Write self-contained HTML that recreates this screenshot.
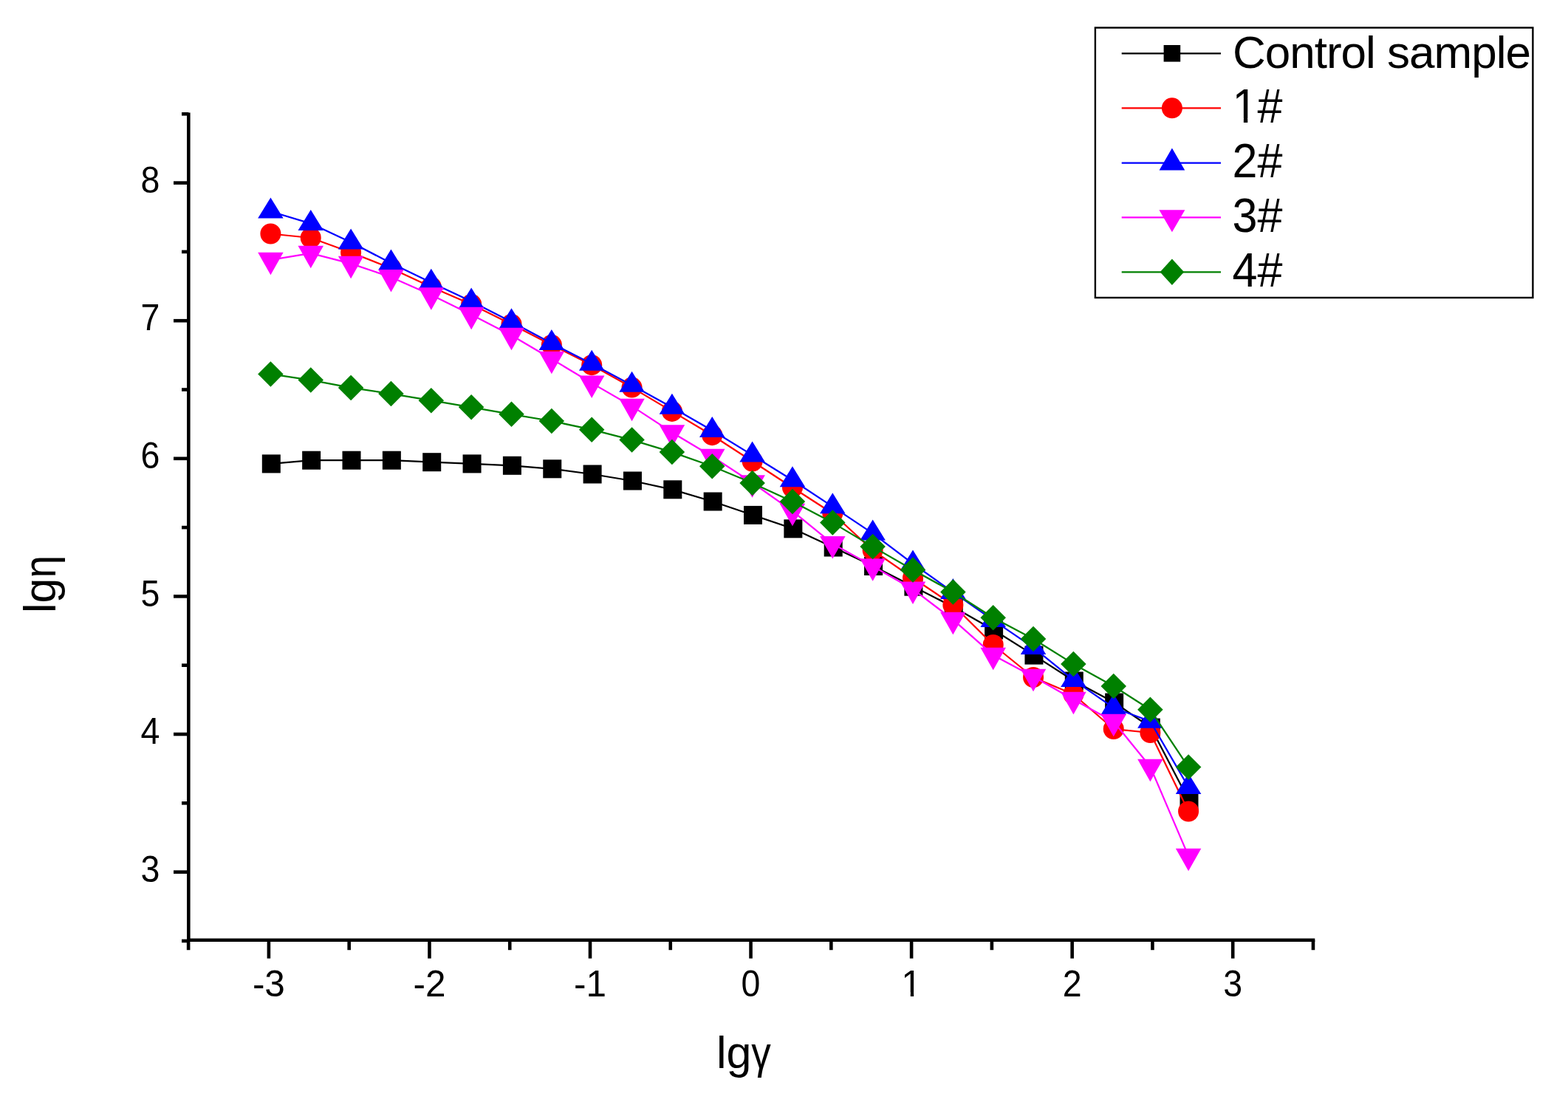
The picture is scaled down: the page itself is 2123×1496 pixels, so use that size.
<!DOCTYPE html>
<html><head><meta charset="utf-8"><title>lg&#951; vs lg&#947;</title>
<style>
html,body{margin:0;padding:0;background:#fff;}
body{width:2123px;height:1496px;overflow:hidden;}
svg{display:block;}
text{font-family:"Liberation Sans",sans-serif;fill:#000;}
</style></head><body>
<svg width="2123" height="1496" viewBox="0 0 2123 1496">
<rect width="2123" height="1496" fill="#fff"/>
<g stroke="#000" stroke-width="4.6" fill="none" stroke-linecap="butt">
<line x1="255.3" y1="152.5" x2="255.3" y2="1275"/>
<line x1="253" y1="1272.7" x2="1780.3" y2="1272.7"/>
<line x1="246" y1="1273.9" x2="255.3" y2="1273.9"/>
<line x1="235" y1="1180.6" x2="255.3" y2="1180.6"/>
<line x1="246" y1="1087.3" x2="255.3" y2="1087.3"/>
<line x1="235" y1="994" x2="255.3" y2="994"/>
<line x1="246" y1="900.7" x2="255.3" y2="900.7"/>
<line x1="235" y1="807.4" x2="255.3" y2="807.4"/>
<line x1="246" y1="714.1" x2="255.3" y2="714.1"/>
<line x1="235" y1="620.8" x2="255.3" y2="620.8"/>
<line x1="246" y1="527.5" x2="255.3" y2="527.5"/>
<line x1="235" y1="434.2" x2="255.3" y2="434.2"/>
<line x1="246" y1="340.9" x2="255.3" y2="340.9"/>
<line x1="235" y1="247.6" x2="255.3" y2="247.6"/>
<line x1="246" y1="154.3" x2="255.3" y2="154.3"/>
<line x1="255.12" y1="1272.7" x2="255.12" y2="1286.2"/>
<line x1="363.9" y1="1272.7" x2="363.9" y2="1297.6"/>
<line x1="472.67" y1="1272.7" x2="472.67" y2="1286.2"/>
<line x1="581.45" y1="1272.7" x2="581.45" y2="1297.6"/>
<line x1="690.23" y1="1272.7" x2="690.23" y2="1286.2"/>
<line x1="799" y1="1272.7" x2="799" y2="1297.6"/>
<line x1="907.77" y1="1272.7" x2="907.77" y2="1286.2"/>
<line x1="1016.55" y1="1272.7" x2="1016.55" y2="1297.6"/>
<line x1="1125.33" y1="1272.7" x2="1125.33" y2="1286.2"/>
<line x1="1234.1" y1="1272.7" x2="1234.1" y2="1297.6"/>
<line x1="1342.88" y1="1272.7" x2="1342.88" y2="1286.2"/>
<line x1="1451.65" y1="1272.7" x2="1451.65" y2="1297.6"/>
<line x1="1560.43" y1="1272.7" x2="1560.43" y2="1286.2"/>
<line x1="1669.2" y1="1272.7" x2="1669.2" y2="1297.6"/>
<line x1="1777.97" y1="1272.7" x2="1777.97" y2="1286.2"/>
</g>
<g font-size="49.5">
<text transform="translate(216.3 1193.8) scale(0.94 1)" text-anchor="end">3</text>
<text transform="translate(216.3 1007.2) scale(0.94 1)" text-anchor="end">4</text>
<text transform="translate(216.3 820.6) scale(0.94 1)" text-anchor="end">5</text>
<text transform="translate(216.3 634) scale(0.94 1)" text-anchor="end">6</text>
<text transform="translate(216.3 447.4) scale(0.94 1)" text-anchor="end">7</text>
<text transform="translate(216.3 260.8) scale(0.94 1)" text-anchor="end">8</text>
<text x="363.9" y="1348.6" text-anchor="middle">-3</text>
<text x="581.45" y="1348.6" text-anchor="middle">-2</text>
<text x="799" y="1348.6" text-anchor="middle">-1</text>
<text transform="translate(1016.55 1348.6) scale(0.94 1)" text-anchor="middle">0</text>
<clipPath id="c1x"><path clip-rule="evenodd" d="M-3000 -3000H3000V3000H-3000Z M1223.72 1343.4 H1232.78 V1350.6 H1223.72 Z M1237.16 1343.4 H1246.2 V1350.6 H1237.16 Z"/></clipPath>
<text x="1220.34" y="1348.6" clip-path="url(#c1x)">1</text>
<text transform="translate(1451.65 1348.6) scale(0.94 1)" text-anchor="middle">2</text>
<text transform="translate(1669.2 1348.6) scale(0.94 1)" text-anchor="middle">3</text>
</g>
<text x="970" y="1446" font-size="61">lg</text><text transform="translate(1017.3 1446) scale(0.87 1)" font-size="61">&#947;</text>
<g transform="translate(75.2 789.4) rotate(-90)" font-size="61"><text x="-40.7" y="0">lg</text><text transform="translate(7.1 0) scale(0.89 1)">&#951;</text></g>
<polyline fill="none" stroke="#000000" stroke-width="2.25" stroke-linejoin="round" points="367.3,627.9 421.65,623.2 476,623.2 530.35,623.2 584.7,625.7 639.05,627.9 693.4,630.3 747.75,634.8 802.1,642 856.45,651 910.8,662.8 965.15,679 1019.5,697.4 1073.85,715.8 1128.2,741 1182.55,766.5 1236.9,794.2 1291.25,822 1345.6,853 1399.95,887.1 1454.3,922 1508.65,951 1558.3,985 1610,1084.3"/>
<g fill="#000000"><rect x="354.8" y="615.4" width="25" height="25"/><rect x="409.15" y="610.7" width="25" height="25"/><rect x="463.5" y="610.7" width="25" height="25"/><rect x="517.85" y="610.7" width="25" height="25"/><rect x="572.2" y="613.2" width="25" height="25"/><rect x="626.55" y="615.4" width="25" height="25"/><rect x="680.9" y="617.8" width="25" height="25"/><rect x="735.25" y="622.3" width="25" height="25"/><rect x="789.6" y="629.5" width="25" height="25"/><rect x="843.95" y="638.5" width="25" height="25"/><rect x="898.3" y="650.3" width="25" height="25"/><rect x="952.65" y="666.5" width="25" height="25"/><rect x="1007" y="684.9" width="25" height="25"/><rect x="1061.35" y="703.3" width="25" height="25"/><rect x="1115.7" y="728.5" width="25" height="25"/><rect x="1170.05" y="754" width="25" height="25"/><rect x="1224.4" y="781.7" width="25" height="25"/><rect x="1278.75" y="809.5" width="25" height="25"/><rect x="1333.1" y="840.5" width="25" height="25"/><rect x="1387.45" y="874.6" width="25" height="25"/><rect x="1441.8" y="909.5" width="25" height="25"/><rect x="1496.15" y="938.5" width="25" height="25"/><rect x="1545.8" y="972.5" width="25" height="25"/><rect x="1597.5" y="1071.8" width="25" height="25"/></g>
<polyline fill="none" stroke="#ff0000" stroke-width="2.25" stroke-linejoin="round" points="366.4,316.5 420.75,322 475.1,341.8 529.45,363.2 583.8,388.5 638.15,412 692.5,439 746.85,467 801.2,494.2 855.55,524.6 909.9,556.9 964.25,589.2 1018.6,624.5 1072.95,660 1127.3,695 1181.65,745 1236,782.5 1290.35,819 1344.7,873 1399.05,917 1453.4,940 1507.75,987 1557.4,992 1609.1,1098.5"/>
<g fill="#ff0000"><circle cx="366.4" cy="316.5" r="14"/><circle cx="420.75" cy="322" r="14"/><circle cx="475.1" cy="341.8" r="14"/><circle cx="529.45" cy="363.2" r="14"/><circle cx="583.8" cy="388.5" r="14"/><circle cx="638.15" cy="412" r="14"/><circle cx="692.5" cy="439" r="14"/><circle cx="746.85" cy="467" r="14"/><circle cx="801.2" cy="494.2" r="14"/><circle cx="855.55" cy="524.6" r="14"/><circle cx="909.9" cy="556.9" r="14"/><circle cx="964.25" cy="589.2" r="14"/><circle cx="1018.6" cy="624.5" r="14"/><circle cx="1072.95" cy="660" r="14"/><circle cx="1127.3" cy="695" r="14"/><circle cx="1181.65" cy="745" r="14"/><circle cx="1236" cy="782.5" r="14"/><circle cx="1290.35" cy="819" r="14"/><circle cx="1344.7" cy="873" r="14"/><circle cx="1399.05" cy="917" r="14"/><circle cx="1453.4" cy="940" r="14"/><circle cx="1507.75" cy="987" r="14"/><circle cx="1557.4" cy="992" r="14"/><circle cx="1609.1" cy="1098.5" r="14"/></g>
<polyline fill="none" stroke="#0000ff" stroke-width="2.25" stroke-linejoin="round" points="366.4,286.27 420.75,302.57 475.1,328.07 529.45,356.17 583.8,382.47 638.15,408.07 692.5,435.87 746.85,464.67 801.2,492.47 855.55,521.47 909.9,551.47 964.25,582.77 1018.6,616.17 1072.95,649.97 1127.3,685.87 1181.65,722.17 1236,763.17 1290.35,801.67 1344.7,839.67 1399.05,876.67 1453.4,920.67 1507.75,958.17 1557.4,976.47 1609.1,1065.67"/>
<g fill="#0000ff"><polygon points="366.4,267.6 383.65,295.6 349.15,295.6"/><polygon points="420.75,283.9 438,311.9 403.5,311.9"/><polygon points="475.1,309.4 492.35,337.4 457.85,337.4"/><polygon points="529.45,337.5 546.7,365.5 512.2,365.5"/><polygon points="583.8,363.8 601.05,391.8 566.55,391.8"/><polygon points="638.15,389.4 655.4,417.4 620.9,417.4"/><polygon points="692.5,417.2 709.75,445.2 675.25,445.2"/><polygon points="746.85,446 764.1,474 729.6,474"/><polygon points="801.2,473.8 818.45,501.8 783.95,501.8"/><polygon points="855.55,502.8 872.8,530.8 838.3,530.8"/><polygon points="909.9,532.8 927.15,560.8 892.65,560.8"/><polygon points="964.25,564.1 981.5,592.1 947,592.1"/><polygon points="1018.6,597.5 1035.85,625.5 1001.35,625.5"/><polygon points="1072.95,631.3 1090.2,659.3 1055.7,659.3"/><polygon points="1127.3,667.2 1144.55,695.2 1110.05,695.2"/><polygon points="1181.65,703.5 1198.9,731.5 1164.4,731.5"/><polygon points="1236,744.5 1253.25,772.5 1218.75,772.5"/><polygon points="1290.35,783 1307.6,811 1273.1,811"/><polygon points="1344.7,821 1361.95,849 1327.45,849"/><polygon points="1399.05,858 1416.3,886 1381.8,886"/><polygon points="1453.4,902 1470.65,930 1436.15,930"/><polygon points="1507.75,939.5 1525,967.5 1490.5,967.5"/><polygon points="1557.4,957.8 1574.65,985.8 1540.15,985.8"/><polygon points="1609.1,1047 1626.35,1075 1591.85,1075"/></g>
<polyline fill="none" stroke="#ff00ff" stroke-width="2.25" stroke-linejoin="round" points="366.4,351.92 420.75,342.92 475.1,356.82 529.45,375.22 583.8,399.32 638.15,426.02 692.5,453.92 746.85,486.02 801.2,518.62 855.55,549.92 909.9,585.42 964.25,617.92 1018.6,653.52 1072.95,691.92 1127.3,736.12 1181.65,766.42 1236,797.72 1290.35,838.92 1344.7,886.92 1399.05,915.92 1453.4,946.92 1507.75,976.92 1557.4,1037.92 1609.1,1158.92"/>
<g fill="#ff00ff"><polygon points="349.15,341.75 383.65,341.75 366.4,372.25"/><polygon points="403.5,332.75 438,332.75 420.75,363.25"/><polygon points="457.85,346.65 492.35,346.65 475.1,377.15"/><polygon points="512.2,365.05 546.7,365.05 529.45,395.55"/><polygon points="566.55,389.15 601.05,389.15 583.8,419.65"/><polygon points="620.9,415.85 655.4,415.85 638.15,446.35"/><polygon points="675.25,443.75 709.75,443.75 692.5,474.25"/><polygon points="729.6,475.85 764.1,475.85 746.85,506.35"/><polygon points="783.95,508.45 818.45,508.45 801.2,538.95"/><polygon points="838.3,539.75 872.8,539.75 855.55,570.25"/><polygon points="892.65,575.25 927.15,575.25 909.9,605.75"/><polygon points="947,607.75 981.5,607.75 964.25,638.25"/><polygon points="1001.35,643.35 1035.85,643.35 1018.6,673.85"/><polygon points="1055.7,681.75 1090.2,681.75 1072.95,712.25"/><polygon points="1110.05,725.95 1144.55,725.95 1127.3,756.45"/><polygon points="1164.4,756.25 1198.9,756.25 1181.65,786.75"/><polygon points="1218.75,787.55 1253.25,787.55 1236,818.05"/><polygon points="1273.1,828.75 1307.6,828.75 1290.35,859.25"/><polygon points="1327.45,876.75 1361.95,876.75 1344.7,907.25"/><polygon points="1381.8,905.75 1416.3,905.75 1399.05,936.25"/><polygon points="1436.15,936.75 1470.65,936.75 1453.4,967.25"/><polygon points="1490.5,966.75 1525,966.75 1507.75,997.25"/><polygon points="1540.15,1027.75 1574.65,1027.75 1557.4,1058.25"/><polygon points="1591.85,1148.75 1626.35,1148.75 1609.1,1179.25"/></g>
<polyline fill="none" stroke="#008000" stroke-width="2.25" stroke-linejoin="round" points="366.4,506.4 420.75,514.6 475.1,524.9 529.45,533.1 583.8,542.2 638.15,551.3 692.5,560.8 746.85,570 801.2,581.7 855.55,595.6 909.9,612.1 964.25,631.2 1018.6,653.9 1072.95,678.9 1127.3,707.6 1181.65,740.1 1236,771.5 1290.35,801.5 1344.7,836.3 1399.05,865 1453.4,898.9 1507.75,928.9 1557.4,960.8 1609.1,1038.6"/>
<g fill="#008000"><polygon points="366.4,489.15 383.65,506.4 366.4,523.65 349.15,506.4"/><polygon points="420.75,497.35 438,514.6 420.75,531.85 403.5,514.6"/><polygon points="475.1,507.65 492.35,524.9 475.1,542.15 457.85,524.9"/><polygon points="529.45,515.85 546.7,533.1 529.45,550.35 512.2,533.1"/><polygon points="583.8,524.95 601.05,542.2 583.8,559.45 566.55,542.2"/><polygon points="638.15,534.05 655.4,551.3 638.15,568.55 620.9,551.3"/><polygon points="692.5,543.55 709.75,560.8 692.5,578.05 675.25,560.8"/><polygon points="746.85,552.75 764.1,570 746.85,587.25 729.6,570"/><polygon points="801.2,564.45 818.45,581.7 801.2,598.95 783.95,581.7"/><polygon points="855.55,578.35 872.8,595.6 855.55,612.85 838.3,595.6"/><polygon points="909.9,594.85 927.15,612.1 909.9,629.35 892.65,612.1"/><polygon points="964.25,613.95 981.5,631.2 964.25,648.45 947,631.2"/><polygon points="1018.6,636.65 1035.85,653.9 1018.6,671.15 1001.35,653.9"/><polygon points="1072.95,661.65 1090.2,678.9 1072.95,696.15 1055.7,678.9"/><polygon points="1127.3,690.35 1144.55,707.6 1127.3,724.85 1110.05,707.6"/><polygon points="1181.65,722.85 1198.9,740.1 1181.65,757.35 1164.4,740.1"/><polygon points="1236,754.25 1253.25,771.5 1236,788.75 1218.75,771.5"/><polygon points="1290.35,784.25 1307.6,801.5 1290.35,818.75 1273.1,801.5"/><polygon points="1344.7,819.05 1361.95,836.3 1344.7,853.55 1327.45,836.3"/><polygon points="1399.05,847.75 1416.3,865 1399.05,882.25 1381.8,865"/><polygon points="1453.4,881.65 1470.65,898.9 1453.4,916.15 1436.15,898.9"/><polygon points="1507.75,911.65 1525,928.9 1507.75,946.15 1490.5,928.9"/><polygon points="1557.4,943.55 1574.65,960.8 1557.4,978.05 1540.15,960.8"/><polygon points="1609.1,1021.35 1626.35,1038.6 1609.1,1055.85 1591.85,1038.6"/></g>
<rect x="1482.9" y="37.5" width="592.5" height="365.5" fill="#fff" stroke="#000" stroke-width="2.4"/>
<line x1="1518.7" y1="72.3" x2="1653" y2="72.3" stroke="#000000" stroke-width="2.25"/><g fill="#000000"><rect x="1575.6" y="61" width="22.6" height="22.6"/></g><text x="1669" y="91.8" font-size="62" letter-spacing="-1">Control sample</text>
<line x1="1518.7" y1="146.3" x2="1653" y2="146.3" stroke="#ff0000" stroke-width="2.25"/><g fill="#ff0000"><circle cx="1586.9" cy="146.3" r="14"/></g><g transform="translate(1668.5 166.2) scale(0.985 1.03)"><clipPath id="c1l"><path clip-rule="evenodd" d="M-3000 -3000H3000V3000H-3000Z M4.24 -6.13 H15.59 V2 H4.24 Z M21.07 -6.13 H32.39 V2 H21.07 Z"/></clipPath><text x="0" y="0" font-size="62" clip-path="url(#c1l)">1#</text></g>
<line x1="1518.7" y1="220.5" x2="1653" y2="220.5" stroke="#0000ff" stroke-width="2.25"/><g fill="#0000ff"><polygon points="1586.9,200.5 1604.25,230.5 1569.55,230.5"/></g><text transform="translate(1668.5 240.2) scale(0.985 1.03)" font-size="62">2#</text>
<line x1="1518.7" y1="294.3" x2="1653" y2="294.3" stroke="#ff00ff" stroke-width="2.25"/><g fill="#ff00ff"><polygon points="1569.4,284.3 1604.4,284.3 1586.9,314.3"/></g><text transform="translate(1668.5 314.4) scale(0.985 1.03)" font-size="62">3#</text>
<line x1="1518.7" y1="368.3" x2="1653" y2="368.3" stroke="#008000" stroke-width="2.25"/><g fill="#008000"><polygon points="1586.9,350.6 1603.15,368.3 1586.9,386 1570.65,368.3"/></g><text transform="translate(1668.5 388.1) scale(0.985 1.03)" font-size="62">4#</text>
</svg>
</body></html>
